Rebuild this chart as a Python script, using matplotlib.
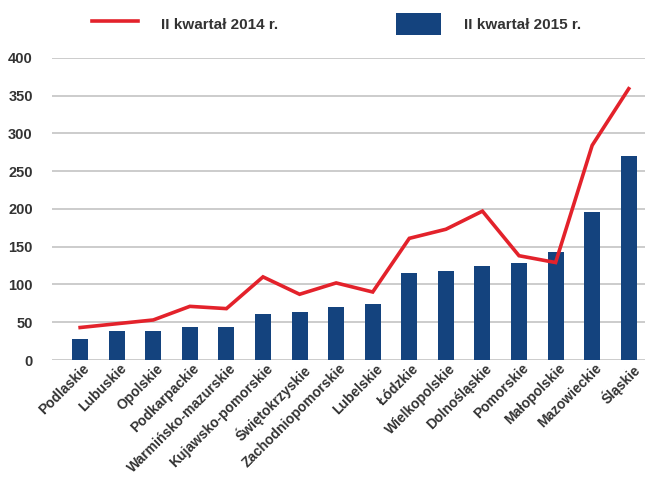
import matplotlib
matplotlib.use("Agg")
import matplotlib.pyplot as plt
import numpy as np

categories = ["Podlaskie", "Lubuskie", "Opolskie", "Podkarpackie", "Warmińsko-mazurskie",
              "Kujawsko-pomorskie", "Świętokrzyskie", "Zachodniopomorskie", "Lubelskie",
              "Łódzkie", "Wielkopolskie", "Dolnośląskie", "Pomorskie", "Małopolskie",
              "Mazowieckie", "Śląskie"]
q2_2015 = [28, 38, 38, 44, 44, 61, 63, 70, 74, 115, 118, 124, 128, 143, 196, 270]
q2_2014 = [43, 48, 53, 71, 68, 110, 87, 102, 90, 161, 173, 197, 138, 129, 284, 359]
yticks = [0, 50, 100, 150, 200, 250, 300, 350, 400]
label_2014 = "II kwartał 2014 r."
label_2015 = "II kwartał 2015 r."

plt.rcParams['font.family'] = ['Liberation Sans', 'DejaVu Sans']

fig = plt.figure(figsize=(6.52, 4.79), dpi=100)
ax = fig.add_axes([0.08, 0.2484, 0.909, 0.6311])

x = np.arange(len(categories))
blue = "#14437E"
red = "#E3222B"
txt = "#333333"

bars = ax.bar(x, q2_2015, width=0.44, color=blue, zorder=2, label=label_2015)
line, = ax.plot(x, q2_2014, color=red, lw=2.6, zorder=3, label=label_2014, solid_joinstyle='miter')

ax.set_ylim(0, 400)
ax.set_xlim(-0.765, 15.44)
ax.set_yticks(yticks)
ax.yaxis.grid(True, color="#c8c8c8", lw=1.3, zorder=0)
ax.set_axisbelow(True)
for s in ax.spines.values():
    s.set_visible(False)
ax.tick_params(axis='both', length=0, colors=txt)
ax.tick_params(axis='y', pad=14)
for lab in ax.get_yticklabels():
    lab.set_fontweight('bold')
    lab.set_fontsize(10.5)

ax.set_xticks(x + 0.07)
ax.set_xticklabels(categories, rotation=45, ha='right', rotation_mode='anchor',
                   fontsize=10, fontweight='bold', color=txt)
ax.tick_params(axis='x', pad=1)

leg = ax.legend([line, bars], [label_2014, label_2015], ncol=2, loc='center left',
                bbox_to_anchor=(92 / 652, 1 - 24 / 479), bbox_transform=fig.transFigure,
                frameon=False, fontsize=11, handlelength=3.0, handleheight=1.8,
                handletextpad=1.5, columnspacing=7.7, borderaxespad=0, borderpad=0)
for t in leg.get_texts():
    t.set_fontweight('bold')
    t.set_color(txt)

fig.savefig("out.png", dpi=100)
